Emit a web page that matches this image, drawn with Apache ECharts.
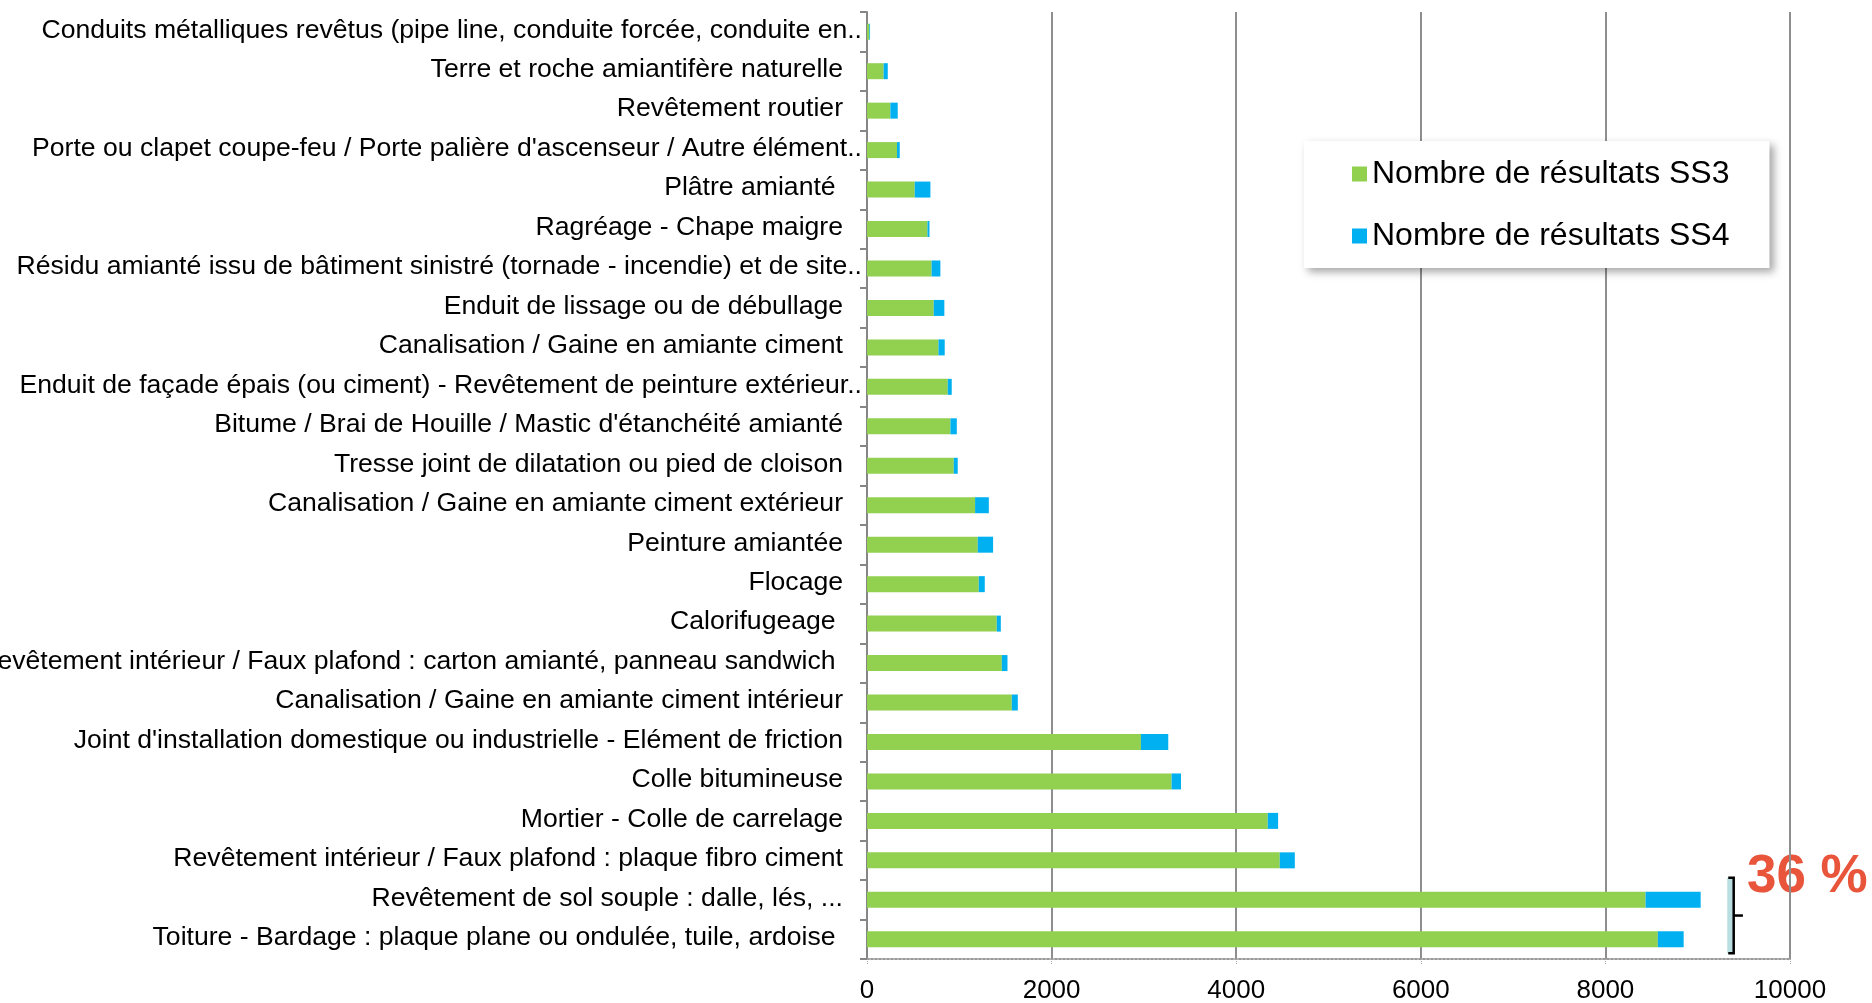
<!DOCTYPE html>
<html>
<head>
<meta charset="utf-8">
<script src="https://cdn.jsdelivr.net/npm/echarts@6/dist/echarts.min.js"></script>
<style>
  html, body { margin: 0; padding: 0; background: #fff; }
  #chart { width: 1872px; height: 1003px; }
</style>
</head>
<body>
<div id="chart"></div>
<script>
// categories, top to bottom
var categories = [
  "Conduits métalliques revêtus (pipe line, conduite forcée, conduite en..",
  "Terre et roche amiantifère naturelle",
  "Revêtement routier",
  "Porte ou clapet coupe-feu / Porte palière d'ascenseur / Autre élément..",
  "Plâtre amianté ",
  "Ragréage - Chape maigre",
  "Résidu amianté issu de bâtiment sinistré (tornade - incendie) et de site..",
  "Enduit de lissage ou de débullage",
  "Canalisation / Gaine en amiante ciment",
  "Enduit de façade épais (ou ciment) - Revêtement de peinture extérieur..",
  "Bitume / Brai de Houille / Mastic d'étanchéité amianté",
  "Tresse joint de dilatation ou pied de cloison",
  "Canalisation / Gaine en amiante ciment extérieur",
  "Peinture amiantée",
  "Flocage",
  "Calorifugeage ",
  "Revêtement intérieur / Faux plafond : carton amianté, panneau sandwich ",
  "Canalisation / Gaine en amiante ciment intérieur",
  "Joint d'installation domestique ou industrielle - Elément de friction",
  "Colle bitumineuse",
  "Mortier - Colle de carrelage",
  "Revêtement intérieur / Faux plafond : plaque fibro ciment",
  "Revêtement de sol souple : dalle, lés, ...",
  "Toiture - Bardage : plaque plane ou ondulée, tuile, ardoise "
];

var ss3 = [25, 180, 253, 325, 517, 655, 700, 723, 774, 875, 904, 940,
           1171, 1200, 1211, 1406, 1461, 1569, 2968, 3300, 4342, 4472, 8435, 8568];
var ss4 = [8, 45, 80, 30, 170, 22, 95, 115, 68, 43, 69, 43,
           149, 166, 65, 44, 61, 65, 296, 102, 112, 163, 597, 280];

var seriesNames = ["Nombre de résultats SS3", "Nombre de résultats SS4"];
var annotation = "36 %";

var font = "Liberation Sans, Arial, sans-serif";
var chart = echarts.init(document.getElementById('chart'));

var option = {
    backgroundColor: '#fff',
    animation: false,
    textStyle: { fontFamily: font },
    grid: {
        left: 867,
        right: 82,
        top: 12,
        bottom: 44,
        containLabel: false,
        outerBoundsMode: 'none'
    },
    legend: {
        orient: 'vertical',
        left: 1304,
        top: 141,
        padding: [17, 40, 16, 48],
        itemGap: 30,
        icon: 'rect',
        itemWidth: 15,
        itemHeight: 15,
        textStyle: { fontSize: 32, color: '#000', fontFamily: font },
        backgroundColor: '#fff',
        shadowColor: 'rgba(0,0,0,0.35)',
        shadowBlur: 8,
        shadowOffsetX: 4,
        shadowOffsetY: 4,
        data: seriesNames
    },
    xAxis: {
        type: 'value',
        min: 0,
        max: 10000,
        interval: 2000,
        axisLine: { show: true, lineStyle: { color: '#9a9a9a', type: 'dotted', width: 2 } },
        axisTick: { show: true, length: 5, lineStyle: { color: '#aaa', type: 'dotted', width: 1 } },
        axisLabel: {
            fontSize: 26, color: '#000', margin: 19, fontFamily: font,
            formatter: function (v) { return String(v); }
        },
        splitLine: { show: true, lineStyle: { color: '#8e8e8e', width: 2 } }
    },
    yAxis: {
        type: 'category',
        inverse: true,
        data: categories,
        axisLine: { show: true, lineStyle: { color: '#868686', width: 2 } },
        axisTick: { show: true, length: 7, lineStyle: { color: '#868686', width: 2 } },
        axisLabel: {
            fontSize: 26.6, color: '#000', margin: 5, interval: 0, fontFamily: font,
            // truncated labels ("xxx..") sit closer to the axis than the full ones
            formatter: function (v) {
                return /[^.]\.\.$/.test(v) ? '{t|' + v + '}' : '{n|' + v + '}';
            },
            rich: {
                t: { fontSize: 26.6, fontFamily: font, color: '#000', padding: [0, 0, 3, 0] },
                n: { fontSize: 26.6, fontFamily: font, color: '#000', padding: [0, 19, 3, 0] }
            }
        },
        splitLine: { show: false }
    },
    series: [
        {
            name: seriesNames[0],
            type: 'bar',
            stack: 'total',
            barWidth: 16,
            itemStyle: { color: '#92D050' },
            data: ss3
        },
        {
            name: seriesNames[1],
            type: 'bar',
            stack: 'total',
            barWidth: 16,
            itemStyle: { color: '#00B0F0' },
            data: ss4
        }
    ]
};
chart.setOption(option);

// bracket around the two biggest bars + percentage
var xL = chart.convertToPixel({ xAxisIndex: 0 }, 9320);
var xR = chart.convertToPixel({ xAxisIndex: 0 }, 9390);
var xTip = chart.convertToPixel({ xAxisIndex: 0 }, 9490);
var yTop = chart.convertToPixel({ yAxisIndex: 0 }, 22) - 22;
var yBot = chart.convertToPixel({ yAxisIndex: 0 }, 23) + 14;
var yMid = (yTop + yBot) / 2;

chart.setOption({
    graphic: [
        {
            type: 'rect',
            shape: { x: xL, y: yTop, width: xR - xL, height: yBot - yTop },
            style: { fill: '#B9DEE2' },
            z: 50
        },
        {
            type: 'polyline',
            shape: { points: [[xL + 1, yTop], [xR, yTop], [xR, yBot], [xL + 1, yBot]] },
            style: { stroke: '#000', lineWidth: 2.5, fill: null },
            z: 51
        },
        {
            type: 'line',
            shape: { x1: xR, y1: yMid, x2: xTip, y2: yMid },
            style: { stroke: '#000', lineWidth: 2.5 },
            z: 51
        },
        {
            type: 'text',
            x: xTip + 4,
            y: yTop,
            z: -1,
            style: {
                text: annotation,
                fill: '#E9553B',
                fontSize: 53,
                fontWeight: 'bold',
                fontFamily: font,
                textAlign: 'left',
                textVerticalAlign: 'middle'
            }
        }
    ]
});
</script>
</body>
</html>
